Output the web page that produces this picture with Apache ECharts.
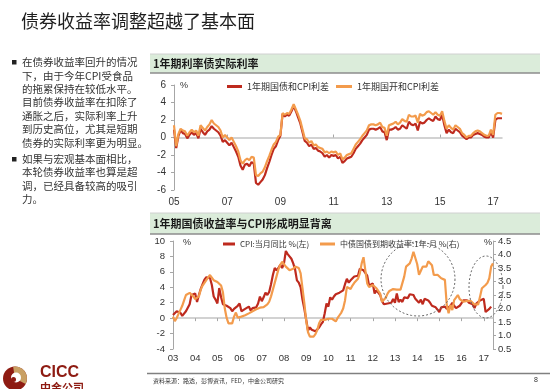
<!DOCTYPE html>
<html><head><meta charset="utf-8">
<script src="https://cdn.jsdelivr.net/npm/echarts@6/dist/echarts.min.js"></script>
<style>html,body{margin:0;padding:0;background:#fff}#c{width:550px;height:389px}</style>
</head><body><div id="c"></div>
<script>
// ---------- Top chart: 1Y real rates, monthly 2005-01 .. 2017-05 ----------
const topStart = 2005, topEndYear = 2017, topEndMonth = 5;
const govSpread = [
  0.9,-1.2,0.2,0.85,0.5,0.4,-0.1,0.3,0.6,0.3,0.5,-0.1,
  1.0,0.6,0.3,0.7,0.9,1.3,1.0,0.8,0.6,0.2,-0.5,-0.3,
  -0.6,-0.9,-0.6,-1.1,-1.6,-2.2,-3.2,-3.7,-3.1,-3.0,-3.3,-2.8,
  -3.0,-5.2,-5.4,-5.1,-4.8,-4.3,-3.5,-2.8,-2.0,-1.3,-1.0,-0.3,
  0.2,2.7,2.4,2.6,2.5,3.0,3.6,3.0,2.3,1.6,0.6,-0.4,
  -0.6,-1.0,-0.8,-1.3,-1.2,-1.5,-1.6,-1.8,-2.2,-2.0,-2.3,-2.0,
  -2.1,-2.0,-2.4,-2.2,-2.9,-2.7,-2.4,-2.3,-2.2,-1.8,-1.3,-1.0,
  -0.7,-0.3,0.0,0.3,0.9,1.0,1.0,0.9,1.0,1.2,0.7,0.6,
  -0.3,0.9,0.9,1.0,1.2,0.9,1.0,1.4,1.2,1.0,1.8,1.5,
  1.4,1.6,0.8,1.8,1.6,1.7,2.0,2.2,2.0,1.9,2.4,2.1,
  2.0,2.6,1.4,0.5,0.9,0.6,0.5,1.0,0.8,0.6,0.2,0.0,
  -0.2,0.0,0.0,0.3,0.4,0.5,0.4,0.3,0.1,0.0,0.0,0.6,
  0.0,2.0,2.2,2.2,2.2
];
const cdbSpread = [
  1.4,-1.0,0.4,1.0,0.8,0.7,0.2,0.6,0.9,0.6,0.8,0.2,
  1.4,1.1,0.8,1.2,1.5,2.0,1.6,1.4,1.2,0.8,0.0,0.3,
  0.0,-0.3,0.0,-0.5,-1.0,-1.6,-2.6,-3.0,-2.6,-2.4,-2.6,-2.2,
  -2.3,-4.3,-4.4,-4.1,-3.9,-3.4,-2.7,-2.1,-1.4,-0.8,-0.5,0.1,
  0.3,2.8,2.6,2.8,2.7,3.2,3.8,3.2,2.6,1.9,0.9,-0.1,
  -0.2,-0.6,-0.4,-0.9,-0.8,-1.1,-1.2,-1.3,-1.7,-1.6,-1.8,-1.6,
  -1.7,-1.6,-2.0,-1.8,-2.5,-2.3,-2.0,-1.9,-1.8,-1.3,-0.8,-0.5,
  -0.2,0.2,0.5,0.8,1.4,1.5,1.5,1.4,1.5,1.7,1.2,1.1,
  0.2,1.4,1.5,1.6,1.8,1.5,1.7,2.1,1.9,1.8,2.6,2.4,
  2.4,2.5,1.7,2.7,2.5,2.6,2.9,3.0,2.8,2.6,2.9,2.6,
  2.5,3.0,1.9,1.0,1.4,1.1,0.9,1.4,1.2,1.0,0.5,0.3,
  0.0,0.2,0.2,0.5,0.7,0.8,0.7,0.5,0.3,0.2,0.2,0.9,
  0.3,2.6,2.8,2.8,2.7
];
// ---------- Bottom chart: CPI vs 1Y CGB yield, monthly 2003-01 .. ----------
const botStart = 2003, botEndYear = 2017, botEndMonth = 6;
const cpiYoY = [
  0.4,0.2,0.9,1.0,0.7,0.3,0.5,0.9,1.1,1.8,3.0,3.2,
  3.2,2.1,3.0,3.8,4.4,5.0,5.3,5.3,5.2,4.3,2.8,2.4,
  1.9,3.9,2.7,1.8,1.8,1.6,1.8,1.3,0.9,1.2,1.3,1.6,
  1.9,0.9,0.8,1.2,1.4,1.5,1.0,1.3,1.5,1.4,1.9,2.8,
  2.2,2.7,3.3,3.0,3.4,4.4,5.6,6.5,6.2,6.5,6.9,6.5,
  7.1,8.7,8.3,8.5,7.7,7.1,6.3,4.9,4.6,4.0,2.4,1.2,
  1.0,-1.6,-1.2,-1.5,-1.4,-1.7,-1.8,-1.2,-0.8,-0.5,0.6,1.9,
  1.5,2.7,2.4,2.8,3.1,2.9,3.3,3.5,3.6,4.4,5.1,4.6,
  4.9,4.9,5.4,5.3,5.5,6.4,6.5,6.2,6.1,5.5,4.2,4.1,
  4.5,3.2,3.6,3.4,3.0,2.2,1.8,2.0,1.9,1.7,2.0,2.5,
  2.0,3.2,2.1,2.4,2.1,2.7,2.7,2.6,3.1,3.2,3.0,2.5,
  2.5,2.0,2.4,1.8,2.5,2.3,2.3,2.0,1.6,1.6,1.4,1.5,
  0.8,1.4,1.4,1.5,1.2,1.4,1.6,2.0,1.6,1.3,1.5,1.6,
  1.8,2.3,2.3,2.3,2.0,1.9,1.8,1.3,1.9,2.1,2.3,2.1,
  2.5,0.8,0.9,1.2,1.5
];
const cgb1y = [
  1.70,1.53,1.65,1.80,1.95,2.10,2.30,2.50,2.56,2.58,2.55,2.45,
  2.35,2.30,2.45,2.70,2.85,2.95,3.05,3.15,3.24,3.20,3.05,3.00,
  2.98,2.93,2.85,2.60,2.00,1.65,1.45,1.41,1.45,1.70,1.85,1.66,
  1.66,1.70,1.72,1.75,1.78,1.82,1.86,1.90,1.94,1.97,2.00,2.03,
  2.03,2.05,2.08,2.15,2.25,2.45,2.70,2.95,3.20,3.45,3.62,3.73,
  3.68,3.55,3.49,3.42,3.40,3.47,3.55,3.57,3.50,3.30,2.75,2.20,
  1.55,1.12,0.96,0.94,0.96,1.05,1.20,1.45,1.58,1.60,1.58,1.60,
  1.62,1.64,1.62,1.55,1.52,1.65,1.75,1.85,2.00,2.30,2.80,2.80,
  2.72,2.85,2.95,3.00,3.10,3.30,3.67,3.90,3.40,2.93,2.80,2.75,
  2.87,2.80,2.75,2.70,2.55,2.25,2.20,2.40,2.55,2.65,2.70,2.72,
  2.65,2.70,2.72,2.70,2.75,3.18,3.55,3.60,3.67,3.85,4.10,4.05,
  3.65,3.25,3.40,3.55,3.48,3.55,3.75,3.80,3.60,3.24,3.30,3.25,
  3.18,3.12,3.10,3.06,2.13,1.82,2.13,1.94,2.31,2.40,2.50,2.35,
  2.31,2.25,2.19,2.28,2.31,2.28,2.25,2.15,2.13,2.15,2.44,2.75,
  2.80,2.87,2.95,3.12,3.55,3.67
];
const leftTicks = { min: -4, max: 10, step: 2 };
const rightTicks = { min: 0.5, max: 4.5, step: 0.5 };
const topTicks = { min: -6, max: 6, step: 2 };

function months(y0, y1, m1) {
  const out = [];
  for (let y = y0; y <= y1; y++)
    for (let m = 1; m <= 12; m++) {
      if (y === y1 && m > m1) break;
      out.push(y + '-' + (m < 10 ? '0' + m : m));
    }
  return out;
}
const topCats = months(topStart, topEndYear, topEndMonth);
const botCats = months(botStart, botEndYear, botEndMonth);

const RED = '#BE2A1E', ORANGE = '#F39B4C', AXIS = '#A6A6A6', TXT = '#333333';
const SANS = "'Liberation Sans', 'Noto Sans CJK SC', sans-serif";
const CJK = "'Noto Sans CJK SC', 'Liberation Sans', sans-serif";

function ellipsePts(cx, cy, rx, ry) {
  const p = [];
  for (let k = 0; k < 90; k++) {
    const t = k / 90 * Math.PI * 2;
    p.push([cx + rx * Math.cos(t), cy + ry * Math.sin(t)]);
  }
  return p;
}

const labelAxisCommon = {
  type: 'category', boundaryGap: false,
  axisLine: { show: false, onZero: false }, axisTick: { show: false },
  splitLine: { show: false }
};

const chart = echarts.init(document.getElementById('c'));
chart.setOption({
  animation: false,
  backgroundColor: '#fff',
  grid: [
    { left: 174, top: 85, width: 328, height: 105 },
    { left: 173, top: 241, width: 320, height: 108 }
  ],
  xAxis: [
    Object.assign({}, labelAxisCommon, {
      gridIndex: 0, data: topCats, position: 'bottom',
      axisLabel: { interval: (i) => i % 24 === 0, formatter: v => v.slice(2, 4),
        fontSize: 10, color: TXT, fontFamily: SANS, margin: 7 }
    }),
    { type: 'category', boundaryGap: false, gridIndex: 0, data: topCats, position: 'bottom',
      axisLine: { show: true, onZero: true, lineStyle: { color: '#C4C4C4', width: 1.5 } },
      axisTick: { show: true, inside: true, length: 3, interval: (i) => i % 24 === 0, lineStyle: { color: AXIS } },
      axisLabel: { show: false }, splitLine: { show: false } },
    Object.assign({}, labelAxisCommon, {
      gridIndex: 1, data: botCats, position: 'bottom',
      axisLabel: { interval: (i) => i % 12 === 0, formatter: v => v.slice(2, 4),
        fontSize: 9.5, color: TXT, fontFamily: SANS, margin: 5 }
    }),
    { type: 'category', boundaryGap: false, gridIndex: 1, data: botCats, position: 'bottom',
      axisLine: { show: true, onZero: true, lineStyle: { color: '#C4C4C4', width: 1.5 } },
      axisTick: { show: true, inside: false, length: 3, interval: (i) => i % 12 === 0, lineStyle: { color: AXIS } },
      axisLabel: { show: false }, splitLine: { show: false } }
  ],
  yAxis: [
    { type: 'value', gridIndex: 0, min: topTicks.min, max: topTicks.max, interval: topTicks.step,
      axisLine: { show: true, lineStyle: { color: AXIS } },
      axisTick: { show: true, length: 3, lineStyle: { color: AXIS } },
      axisLabel: { fontSize: 10, color: TXT, fontFamily: SANS, margin: 8 },
      splitLine: { show: false } },
    { type: 'value', gridIndex: 1, position: 'left', min: leftTicks.min, max: leftTicks.max, interval: leftTicks.step,
      axisLine: { show: true, lineStyle: { color: AXIS } },
      axisTick: { show: true, length: 3, lineStyle: { color: AXIS } },
      axisLabel: { fontSize: 9.5, color: TXT, fontFamily: SANS, margin: 8 },
      splitLine: { show: false } },
    { type: 'value', gridIndex: 1, position: 'right', min: rightTicks.min, max: rightTicks.max, interval: rightTicks.step,
      axisLine: { show: true, lineStyle: { color: AXIS } },
      axisTick: { show: true, length: 3, lineStyle: { color: AXIS } },
      axisLabel: { fontSize: 9.5, color: TXT, fontFamily: SANS, margin: 5, formatter: v => v.toFixed(1) },
      splitLine: { show: false } }
  ],
  legend: [
    { data: ['1年期国债和CPI利差'], left: 227, top: 82, itemWidth: 15, itemHeight: 3, icon: 'rect',
      textStyle: { fontSize: 9, color: TXT, fontFamily: CJK }, padding: 0, itemGap: 0 },
    { data: ['1年期国开和CPI利差'], left: 336, top: 82, itemWidth: 16, itemHeight: 3, icon: 'rect',
      textStyle: { fontSize: 9, color: TXT, fontFamily: CJK }, padding: 0, itemGap: 0 },
    { data: ['CPI:当月同比 %(左)'], left: 223, top: 240, itemWidth: 12, itemHeight: 3, icon: 'rect',
      textStyle: { fontSize: 8, color: TXT, fontFamily: CJK }, padding: 0, itemGap: 0 },
    { data: ['中债国债到期收益率:1年:月 %(右)'], left: 320, top: 240, itemWidth: 15, itemHeight: 3, icon: 'rect',
      textStyle: { fontSize: 8, color: TXT, fontFamily: CJK }, padding: 0, itemGap: 0 }
  ],
  series: [
    { name: '1年期国债和CPI利差', type: 'line', xAxisIndex: 0, yAxisIndex: 0, data: govSpread,
      showSymbol: false, color: RED, lineStyle: { width: 2.2, color: RED } },
    { name: '1年期国开和CPI利差', type: 'line', xAxisIndex: 0, yAxisIndex: 0, data: cdbSpread,
      showSymbol: false, color: ORANGE, lineStyle: { width: 2.2, color: ORANGE } },
    { name: 'CPI:当月同比 %(左)', type: 'line', xAxisIndex: 2, yAxisIndex: 1, data: cpiYoY,
      showSymbol: false, color: RED, lineStyle: { width: 2.2, color: RED } },
    { name: '中债国债到期收益率:1年:月 %(右)', type: 'line', xAxisIndex: 2, yAxisIndex: 2, data: cgb1y,
      showSymbol: false, color: ORANGE, lineStyle: { width: 2.2, color: ORANGE } }
  ],
  graphic: [
    { type: 'text', style: { text: '债券收益率调整超越了基本面', x: 21, y: 21.5, verticalAlign: 'middle',
        font: '18px ' + CJK, fill: '#1f1f1f' } },
    { type: 'rect', shape: { x: 12, y: 60, width: 4.5, height: 4.5 }, style: { fill: '#222' } },
    { type: 'rect', shape: { x: 12, y: 157, width: 4.5, height: 4.5 }, style: { fill: '#222' } },
    { type: 'text', style: { text: '在债券收益率回升的情况\n下，由于今年CPI受食品\n的拖累保持在较低水平。\n目前债券收益率在扣除了\n通胀之后，实际利率上升\n到历史高位，尤其是短期\n债券的实际利率更为明显。',
        x: 22, y: 55.6, verticalAlign: 'top', lineHeight: 13.4, font: '10.5px ' + CJK, fill: '#333' } },
    { type: 'text', style: { text: '如果与宏观基本面相比，\n本轮债券收益率也算是超\n调，已经具备较高的吸引\n力。',
        x: 22, y: 152.3, verticalAlign: 'top', lineHeight: 13.4, font: '10.5px ' + CJK, fill: '#333' } },
    { type: 'rect', shape: { x: 150, y: 54, width: 390, height: 19 }, style: { fill: '#DBECDA' } },
    { type: 'line', shape: { x1: 150, y1: 54, x2: 540, y2: 54 }, style: { stroke: '#D0D0D0', lineWidth: 1 } },
    { type: 'line', shape: { x1: 150, y1: 73, x2: 540, y2: 73 }, style: { stroke: '#8C8C8C', lineWidth: 1.5 } },
    { type: 'text', style: { text: '1年期利率债实际利率', x: 153, y: 63.5, verticalAlign: 'middle',
        font: 'bold 11px ' + CJK, fill: '#1a1a1a' } },
    { type: 'rect', shape: { x: 150, y: 213, width: 390, height: 21 }, style: { fill: '#DBECDA' } },
    { type: 'line', shape: { x1: 150, y1: 213, x2: 540, y2: 213 }, style: { stroke: '#D0D0D0', lineWidth: 1 } },
    { type: 'line', shape: { x1: 150, y1: 234, x2: 540, y2: 234 }, style: { stroke: '#8C8C8C', lineWidth: 1.5 } },
    { type: 'text', style: { text: '1年期国债收益率与CPI形成明显背离', x: 153, y: 224, verticalAlign: 'middle',
        font: 'bold 11px ' + CJK, fill: '#1a1a1a' } },
    { type: 'text', style: { text: '%', x: 180, y: 86, verticalAlign: 'middle', font: '9px ' + SANS, fill: TXT } },
    { type: 'text', style: { text: '%', x: 183, y: 243, verticalAlign: 'middle', font: '9px ' + SANS, fill: TXT } },
    { type: 'text', style: { text: '%', x: 484, y: 243, verticalAlign: 'middle', font: '9px ' + SANS, fill: TXT } },
    { type: 'polygon', shape: { points: ellipsePts(418, 279, 37, 37) },
      style: { fill: null, stroke: '#666', lineWidth: 1, lineDash: [2, 2] }, z: 10 },
    { type: 'polygon', shape: { points: ellipsePts(486, 287, 17, 31) },
      style: { fill: null, stroke: '#666', lineWidth: 1, lineDash: [2, 2] }, z: 10 },
    { type: 'line', shape: { x1: 147, y1: 373.5, x2: 550, y2: 373.5 }, style: { stroke: '#808080', lineWidth: 1.5 } },
    { type: 'text', style: { text: '资料来源：路透，彭博资讯，FED，中金公司研究', x: 153, y: 380.5, verticalAlign: 'middle',
        font: '6px ' + CJK, fill: '#333' } },
    { type: 'text', style: { text: '8', x: 534, y: 380.5, verticalAlign: 'middle', font: '7px ' + SANS, fill: '#333' } },
    { type: 'circle', shape: { cx: 15, cy: 378.5, r: 12 }, style: { fill: '#8E1B12' } },
    { type: 'sector', shape: { cx: 15, cy: 378.5, r: 12, r0: 0, startAngle: -Math.PI * 0.55, endAngle: Math.PI * 0.15 }, style: { fill: '#C9A063' } },
    { type: 'circle', shape: { cx: 16, cy: 377.5, r: 5 }, style: { fill: '#fff' } },
    { type: 'circle', shape: { cx: 13.5, cy: 379.5, r: 2.5 }, style: { fill: '#8E1B12' } },
    { type: 'text', style: { text: 'CICC', x: 40, y: 372.5, verticalAlign: 'middle', font: 'bold 16px ' + SANS, fill: '#8E1B12' } },
    { type: 'text', style: { text: '中金公司', x: 40, y: 388, verticalAlign: 'middle', font: 'bold 11px ' + CJK, fill: '#8E1B12' } }
  ]
});
</script>
</body></html>
